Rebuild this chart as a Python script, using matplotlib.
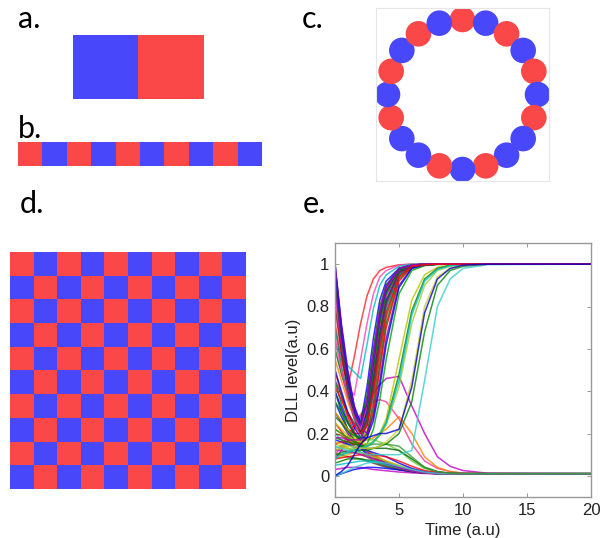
import matplotlib
matplotlib.use("Agg")
import matplotlib.pyplot as plt
from matplotlib.colors import ListedColormap
from matplotlib.patches import Circle
import numpy as np

BLUE = '#4848fa'
RED = '#fa4848'

# a. two cells, b. strip of ten cells (0 = blue, 1 = red)
cells_a = [[0, 1]]
cells_b = [[1, 0, 1, 0, 1, 0, 1, 0, 1, 0]]

# c. ring of 20 cells, clockwise from the top
ring_c = ['r', 'b', 'r', 'b', 'r', 'b', 'r', 'b', 'b', 'r',
          'b', 'r', 'b', 'b', 'r', 'b', 'r', 'b', 'r', 'b']

# d. 10 x 10 sheet
cells_d = [
    [1, 0, 1, 0, 1, 0, 1, 0, 1, 0],
    [0, 1, 0, 1, 0, 1, 0, 1, 0, 1],
    [1, 0, 1, 0, 1, 0, 1, 0, 1, 0],
    [0, 1, 0, 1, 0, 1, 0, 1, 0, 1],
    [1, 0, 1, 0, 1, 0, 1, 0, 1, 0],
    [0, 1, 0, 1, 0, 1, 0, 1, 0, 1],
    [1, 0, 1, 0, 1, 0, 1, 0, 1, 0],
    [0, 1, 0, 1, 0, 1, 0, 1, 0, 1],
    [1, 0, 1, 0, 1, 0, 1, 0, 1, 0],
    [0, 1, 0, 1, 0, 1, 0, 1, 0, 1],
]

# e. DLL level traces
time_e = [0, 0.5, 1, 1.5, 2, 2.5, 3, 3.5, 4, 5, 6, 7, 8, 9, 10, 12, 20]

dll_low = [
    [0.08, 0.12, 0.17, 0.22, 0.28, 0.34, 0.39, 0.43, 0.46, 0.47, 0.33, 0.2, 0.09, 0.045, 0.025, 0.012, 0.01],
    [0.1, 0.14, 0.19, 0.24, 0.29, 0.33, 0.35, 0.36, 0.35, 0.27, 0.15, 0.07, 0.035, 0.02, 0.013, 0.01, 0.01],
    [0.12, 0.13, 0.14, 0.15, 0.16, 0.17, 0.18, 0.2, 0.22, 0.28, 0.2, 0.09, 0.04, 0.02, 0.012, 0.01, 0.01],
    [0.45, 0.34, 0.26, 0.2, 0.15, 0.12, 0.1, 0.08, 0.065, 0.04, 0.025, 0.015, 0.012, 0.01, 0.01, 0.01, 0.01],
    [0.35, 0.28, 0.22, 0.17, 0.13, 0.1, 0.08, 0.065, 0.05, 0.03, 0.02, 0.013, 0.01, 0.01, 0.01, 0.01, 0.01],
    [0.25, 0.21, 0.17, 0.14, 0.11, 0.09, 0.07, 0.055, 0.045, 0.03, 0.02, 0.013, 0.01, 0.01, 0.01, 0.01, 0.01],
    [0.2, 0.17, 0.15, 0.13, 0.11, 0.09, 0.075, 0.06, 0.05, 0.035, 0.022, 0.015, 0.011, 0.01, 0.01, 0.01, 0.01],
    [0.03, 0.035, 0.04, 0.04, 0.04, 0.035, 0.03, 0.027, 0.024, 0.018, 0.014, 0.011, 0.01, 0.01, 0.01, 0.01, 0.01],
    [0.15, 0.14, 0.13, 0.12, 0.1, 0.09, 0.08, 0.07, 0.06, 0.04, 0.025, 0.016, 0.012, 0.01, 0.01, 0.01, 0.01],
    [0.1, 0.1, 0.09, 0.085, 0.08, 0.07, 0.06, 0.05, 0.04, 0.03, 0.02, 0.014, 0.011, 0.01, 0.01, 0.01, 0.01],
    [0.0, 0.01, 0.02, 0.03, 0.035, 0.04, 0.04, 0.038, 0.035, 0.028, 0.02, 0.014, 0.011, 0.01, 0.01, 0.01, 0.01],
    [0.06, 0.07, 0.08, 0.08, 0.08, 0.075, 0.07, 0.06, 0.05, 0.035, 0.023, 0.015, 0.011, 0.01, 0.01, 0.01, 0.01],
    [0.5, 0.38, 0.28, 0.21, 0.16, 0.12, 0.09, 0.07, 0.055, 0.035, 0.022, 0.014, 0.011, 0.01, 0.01, 0.01, 0.01],
    [0.05, 0.055, 0.06, 0.065, 0.07, 0.07, 0.068, 0.06, 0.052, 0.037, 0.024, 0.015, 0.011, 0.01, 0.01, 0.01, 0.01],
    [0.3, 0.25, 0.2, 0.16, 0.13, 0.11, 0.09, 0.075, 0.06, 0.04, 0.025, 0.016, 0.012, 0.01, 0.01, 0.01, 0.01],
    [0.22, 0.2, 0.18, 0.16, 0.14, 0.12, 0.1, 0.085, 0.07, 0.045, 0.028, 0.017, 0.012, 0.01, 0.01, 0.01, 0.01],
    [0.08, 0.09, 0.1, 0.11, 0.11, 0.1, 0.09, 0.08, 0.07, 0.05, 0.03, 0.018, 0.012, 0.01, 0.01, 0.01, 0.01],
    [0.13, 0.14, 0.15, 0.16, 0.17, 0.17, 0.17, 0.16, 0.15, 0.12, 0.07, 0.035, 0.018, 0.012, 0.01, 0.01, 0.01],
    [0.4, 0.3, 0.22, 0.17, 0.14, 0.13, 0.13, 0.13, 0.13, 0.12, 0.08, 0.04, 0.02, 0.012, 0.01, 0.01, 0.01],
    [0.17, 0.16, 0.15, 0.14, 0.13, 0.12, 0.11, 0.1, 0.09, 0.06, 0.035, 0.02, 0.013, 0.01, 0.01, 0.01, 0.01],
    [0.08, 0.085, 0.09, 0.095, 0.1, 0.1, 0.1, 0.095, 0.09, 0.07, 0.045, 0.025, 0.015, 0.011, 0.01, 0.01, 0.01],
    [0.12, 0.12, 0.11, 0.11, 0.1, 0.09, 0.08, 0.07, 0.06, 0.04, 0.025, 0.016, 0.012, 0.01, 0.01, 0.01, 0.01],
    [0.0, 0.01, 0.025, 0.04, 0.05, 0.06, 0.065, 0.065, 0.06, 0.045, 0.03, 0.018, 0.012, 0.01, 0.01, 0.01, 0.01],
    [0.1, 0.1, 0.11, 0.12, 0.13, 0.14, 0.15, 0.15, 0.15, 0.14, 0.09, 0.04, 0.02, 0.012, 0.01, 0.01, 0.01],
]
colors_low = ['#bf00bf', '#ff3399', '#ff8000', '#008000', '#0000ff', '#ff0000',
              '#00bfbf', '#bf00bf', '#bfbf00', '#404040', '#0000ff', '#008000',
              '#ff0000', '#00bfbf', '#6600cc', '#ff8000', '#bfbf00', '#66cc33',
              '#006600', '#0000ff', '#ff0000', '#bf00bf', '#33cccc', '#339933']

dll_high = [
    [0.72, 0.55, 0.42, 0.56, 0.72, 0.85, 0.93, 0.97, 0.985, 0.997, 1, 1, 1, 1, 1, 1, 1],
    [0.85, 0.6, 0.42, 0.38, 0.55, 0.72, 0.86, 0.94, 0.97, 0.995, 1, 1, 1, 1, 1, 1, 1],
    [0.62, 0.57, 0.52, 0.49, 0.46, 0.62, 0.79, 0.9, 0.95, 0.99, 1, 1, 1, 1, 1, 1, 1],
    [1.0, 0.72, 0.5, 0.33, 0.25, 0.42, 0.65, 0.83, 0.92, 0.98, 0.995, 1, 1, 1, 1, 1, 1],
    [0.98, 0.68, 0.45, 0.3, 0.22, 0.36, 0.58, 0.78, 0.9, 0.98, 0.995, 1, 1, 1, 1, 1, 1],
    [0.6, 0.48, 0.38, 0.3, 0.25, 0.38, 0.6, 0.8, 0.9, 0.98, 0.995, 1, 1, 1, 1, 1, 1],
    [0.3, 0.26, 0.22, 0.2, 0.2, 0.32, 0.55, 0.76, 0.88, 0.97, 0.995, 1, 1, 1, 1, 1, 1],
    [0.45, 0.38, 0.3, 0.25, 0.22, 0.3, 0.5, 0.72, 0.86, 0.97, 0.995, 1, 1, 1, 1, 1, 1],
    [0.9, 0.62, 0.42, 0.28, 0.2, 0.28, 0.48, 0.7, 0.85, 0.97, 0.99, 1, 1, 1, 1, 1, 1],
    [0.4, 0.32, 0.25, 0.2, 0.17, 0.25, 0.45, 0.67, 0.83, 0.96, 0.99, 0.998, 1, 1, 1, 1, 1],
    [0.25, 0.22, 0.19, 0.17, 0.16, 0.22, 0.4, 0.62, 0.8, 0.95, 0.99, 0.998, 1, 1, 1, 1, 1],
    [0.95, 0.66, 0.44, 0.3, 0.22, 0.24, 0.38, 0.6, 0.78, 0.95, 0.99, 0.998, 1, 1, 1, 1, 1],
    [0.2, 0.19, 0.17, 0.16, 0.15, 0.2, 0.35, 0.56, 0.75, 0.94, 0.99, 0.998, 1, 1, 1, 1, 1],
    [0.35, 0.3, 0.25, 0.2, 0.17, 0.2, 0.32, 0.52, 0.72, 0.93, 0.985, 0.997, 1, 1, 1, 1, 1],
    [0.15, 0.16, 0.16, 0.15, 0.15, 0.18, 0.3, 0.5, 0.7, 0.92, 0.985, 0.997, 1, 1, 1, 1, 1],
    [1.0, 0.7, 0.47, 0.32, 0.23, 0.2, 0.28, 0.45, 0.65, 0.9, 0.98, 0.995, 1, 1, 1, 1, 1],
    [0.5, 0.4, 0.3, 0.23, 0.18, 0.18, 0.26, 0.42, 0.62, 0.89, 0.98, 0.995, 1, 1, 1, 1, 1],
    [0.22, 0.2, 0.18, 0.16, 0.14, 0.15, 0.22, 0.36, 0.55, 0.86, 0.97, 0.993, 0.998, 1, 1, 1, 1],
    [0.3, 0.26, 0.22, 0.18, 0.16, 0.15, 0.16, 0.2, 0.27, 0.55, 0.83, 0.95, 0.985, 0.995, 1, 1, 1],
    [0.18, 0.17, 0.16, 0.15, 0.14, 0.14, 0.16, 0.19, 0.25, 0.48, 0.78, 0.93, 0.98, 0.995, 1, 1, 1],
    [0.12, 0.13, 0.13, 0.13, 0.13, 0.14, 0.16, 0.19, 0.24, 0.42, 0.72, 0.9, 0.97, 0.99, 0.998, 1, 1],
    [0.08, 0.1, 0.11, 0.12, 0.13, 0.14, 0.16, 0.2, 0.25, 0.45, 0.76, 0.92, 0.975, 0.993, 0.998, 1, 1],
    [0.1, 0.11, 0.12, 0.12, 0.12, 0.12, 0.13, 0.14, 0.15, 0.2, 0.35, 0.68, 0.9, 0.97, 0.99, 1, 1],
    [0.14, 0.13, 0.12, 0.12, 0.11, 0.1, 0.1, 0.1, 0.1, 0.1, 0.12, 0.45, 0.8, 0.93, 0.98, 0.998, 1],
    [0.16, 0.15, 0.14, 0.14, 0.13, 0.13, 0.13, 0.14, 0.16, 0.22, 0.45, 0.8, 0.94, 0.98, 0.995, 1, 1],
    [0.55, 0.45, 0.35, 0.27, 0.21, 0.3, 0.5, 0.72, 0.86, 0.97, 0.995, 1, 1, 1, 1, 1, 1],
    [0.8, 0.58, 0.4, 0.28, 0.2, 0.26, 0.45, 0.66, 0.82, 0.96, 0.99, 0.998, 1, 1, 1, 1, 1],
    [0.7, 0.52, 0.38, 0.27, 0.2, 0.24, 0.4, 0.62, 0.8, 0.95, 0.99, 0.998, 1, 1, 1, 1, 1],
    [0.97, 0.67, 0.45, 0.3, 0.21, 0.3, 0.52, 0.74, 0.87, 0.97, 0.995, 1, 1, 1, 1, 1, 1],
    [0.28, 0.25, 0.21, 0.19, 0.18, 0.28, 0.5, 0.72, 0.86, 0.97, 0.995, 1, 1, 1, 1, 1, 1],
    [0.18, 0.18, 0.17, 0.17, 0.17, 0.24, 0.42, 0.65, 0.82, 0.96, 0.99, 0.998, 1, 1, 1, 1, 1],
    [0.92, 0.64, 0.43, 0.29, 0.21, 0.26, 0.44, 0.66, 0.82, 0.96, 0.99, 0.998, 1, 1, 1, 1, 1],
    [0.65, 0.5, 0.37, 0.28, 0.22, 0.34, 0.57, 0.78, 0.89, 0.98, 0.995, 1, 1, 1, 1, 1, 1],
    [1.0, 0.7, 0.48, 0.33, 0.24, 0.34, 0.56, 0.77, 0.89, 0.98, 0.995, 1, 1, 1, 1, 1, 1],
    [0.42, 0.36, 0.29, 0.24, 0.2, 0.24, 0.4, 0.6, 0.77, 0.94, 0.99, 0.998, 1, 1, 1, 1, 1],
    [0.0, 0.02, 0.05, 0.1, 0.15, 0.18, 0.19, 0.2, 0.2, 0.22, 0.42, 0.77, 0.93, 0.98, 0.995, 1, 1],
]
colors_high = ['#ff2020', '#ff40c0', '#00c0c0', '#0000ff', '#6600cc', '#006600',
               '#ff0000', '#404040', '#bf00bf', '#0000ff', '#bfbf00', '#00bfbf',
               '#993300', '#008000', '#ff0000', '#6600cc', '#0000ff', '#00a000',
               '#bfbf00', '#008000', '#99cc33', '#00bfbf', '#008000', '#33cccc',
               '#cccc33', '#ff8000', '#990000', '#008080', '#0000ff', '#008000',
               '#bf00bf', '#404040', '#ff3399', '#6600cc', '#ff0000', '#0000cc']

fig = plt.figure(figsize=(6.0, 5.38), dpi=100)
cmap = ListedColormap([BLUE, RED])


def px_axes(x0, y0, x1, y1):
    W, H = 600.0, 538.0
    return fig.add_axes([x0 / W, 1 - y1 / H, (x1 - x0) / W, (y1 - y0) / H])


def label(x, y, s):
    fig.text(x / 600.0, 1 - y / 538.0, s, fontsize=22, family=['Lato', 'DejaVu Sans'],
             ha='left', va='baseline')


# a.
ax_a = px_axes(73, 35, 203, 99)
ax_a.imshow(np.array(cells_a), cmap=cmap, vmin=0, vmax=1, aspect='auto', interpolation='nearest')
ax_a.axis('off')

# b.
ax_b = px_axes(18, 142, 262, 166)
ax_b.imshow(np.array(cells_b), cmap=cmap, vmin=0, vmax=1, aspect='auto', interpolation='nearest')
ax_b.axis('off')

# c.
ax_c = px_axes(376, 8, 549, 181)
ax_c.set_xlim(-86.5, 86.5)
ax_c.set_ylim(-86.5, 86.5)
ax_c.set_aspect('auto')
for i, c in enumerate(ring_c):
    ang = np.deg2rad(90 - 18 * i)
    ax_c.add_patch(Circle((75 * np.cos(ang), 75 * np.sin(ang)), 12.8,
                          color=BLUE if c == 'b' else RED, lw=0))
ax_c.set_xticks([])
ax_c.set_yticks([])
for sp in ax_c.spines.values():
    sp.set_color('#e6e6e6')
    sp.set_linewidth(0.8)

# d.
ax_d = px_axes(10, 252, 246, 489)
ax_d.imshow(np.array(cells_d), cmap=cmap, vmin=0, vmax=1, aspect='auto', interpolation='nearest')
ax_d.axis('off')

# e.
ax_e = px_axes(335, 243, 591, 497)
for ys, c in zip(dll_low, colors_low):
    ax_e.plot(time_e, ys, color=c, lw=1.1, alpha=0.8)
for ys, c in zip(dll_high, colors_high):
    ax_e.plot(time_e, ys, color=c, lw=1.1, alpha=0.8)
ax_e.set_xlim(0, 20)
ax_e.set_ylim(-0.1, 1.1)
ax_e.set_xticks([0, 5, 10, 15, 20])
ax_e.set_yticks([0, 0.2, 0.4, 0.6, 0.8, 1])
ax_e.set_yticklabels(['0', '0.2', '0.4', '0.6', '0.8', '1'])
ax_e.tick_params(direction='in', top=True, right=True, length=3, width=0.7,
                 color='#999999', labelsize=12, labelcolor='#222222', pad=4)
for sp in ax_e.spines.values():
    sp.set_color('#999999')
    sp.set_linewidth(1.0)
for t in ax_e.get_xticklabels() + ax_e.get_yticklabels():
    t.set_family('Liberation Sans')
ax_e.set_xlabel('Time (a.u)', fontsize=12, family='Liberation Sans', color='#222222', labelpad=4)
ax_e.set_ylabel('DLL level(a.u)', fontsize=12, family='Liberation Sans', color='#222222', labelpad=4)

label(18, 28, 'a.')
label(18, 138, 'b.')
label(302, 28, 'c.')
label(20, 213, 'd.')
label(303, 213, 'e.')

fig.savefig('out.png', dpi=100)
